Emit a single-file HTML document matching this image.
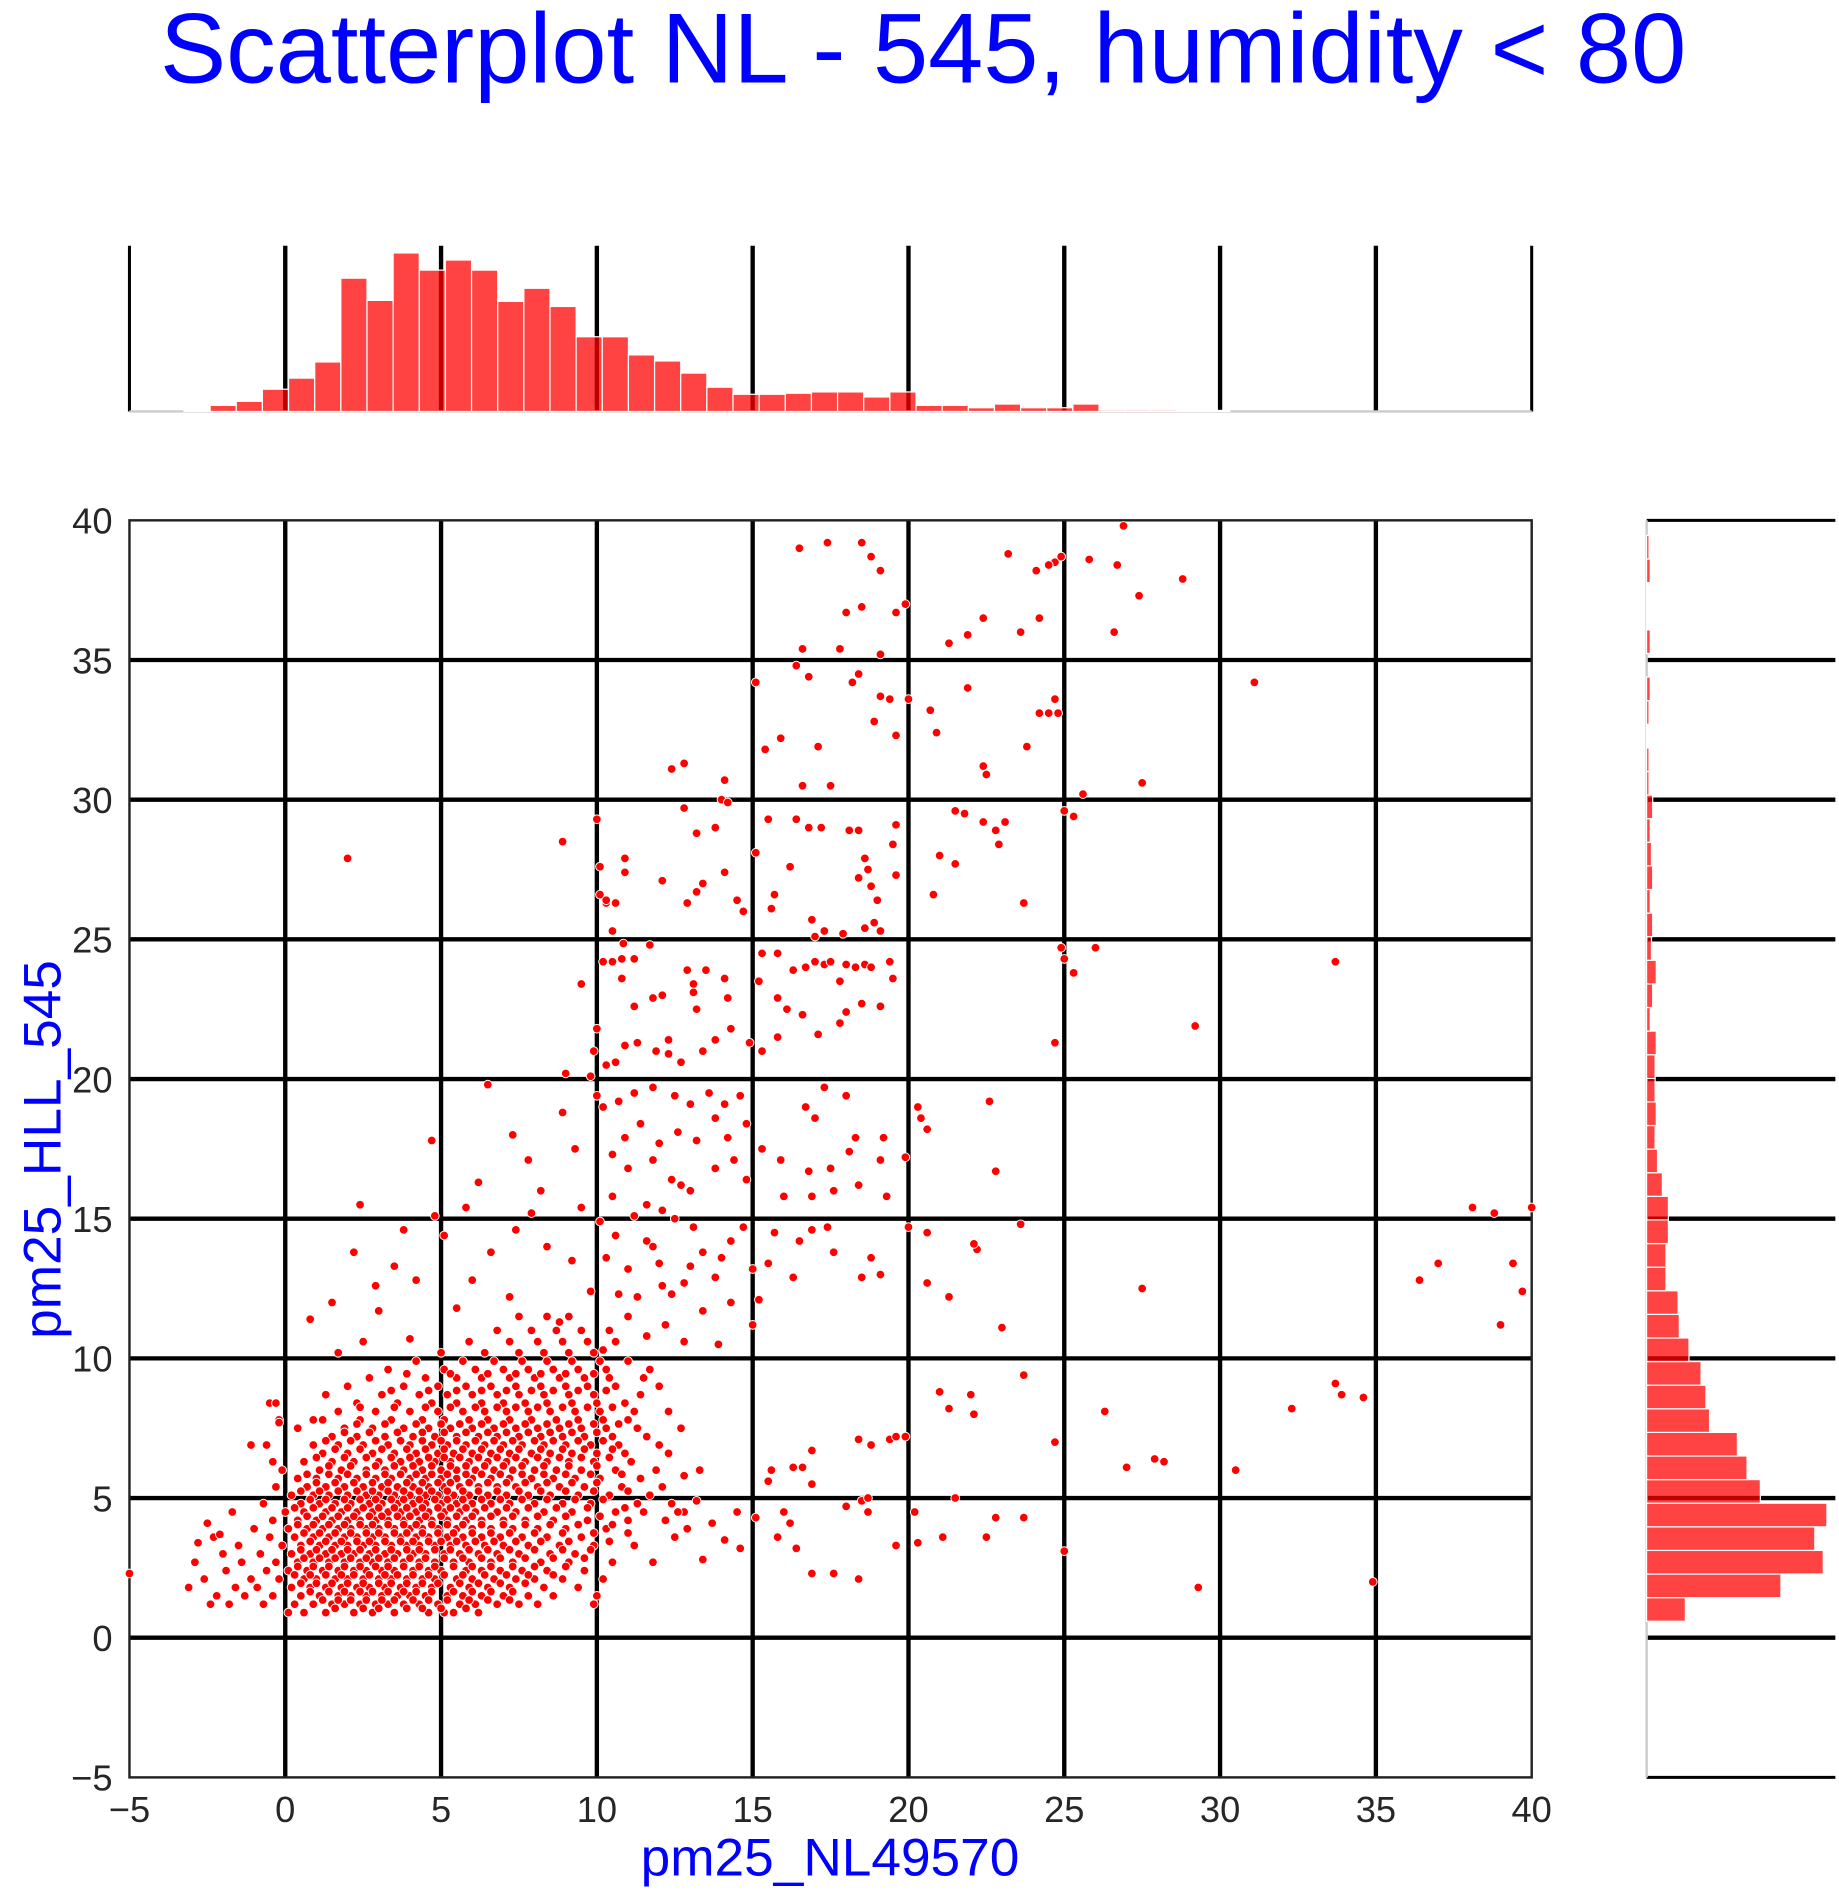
<!DOCTYPE html>
<html><head><meta charset="utf-8"><style>
html,body{margin:0;padding:0;background:#fff;}
svg{display:block;}
text{font-family:"Liberation Sans",Arial,sans-serif;}
</style></head><body>
<svg id="chart" xmlns="http://www.w3.org/2000/svg" width="1839" height="1890" viewBox="0 0 1520 1562">
<rect x="0" y="0" width="1520" height="1562" fill="#fff"/>
<text x="763" y="68" text-anchor="middle" font-size="82" fill="#0000ff">Scatterplot NL - 545, humidity &lt; 80</text>
<g id="gTop"></g>
<g id="gMain"></g>
<g id="gRight"></g>
<text x="686" y="1550" text-anchor="middle" font-size="44" fill="#0000ff">pm25_NL49570</text>
<text transform="translate(50,950) rotate(-90)" text-anchor="middle" font-size="44" fill="#0000ff">pm25_HLL_545</text>
</svg>
<script>
const xTicks=[-5,0,5,10,15,20,25,30,35,40];
const yTicks=[-5,0,5,10,15,20,25,30,35,40];
const topBinStart=-3.25, topBinWidth=0.839;
const topCounts=[3,18,30,66,99,147,396,330,471,420,450,420,327,366,312,222,222,168,150,114,72,51,51,54,58,58,43,58,18,18,11,22,11,11,22,4,4,4,3,3];
const rightBinStart=0.59, rightBinWidth=0.845;
const rightCounts=[32,111,146,139,149,94,83,75,52,49,45,35,27,26,16,16,18,18,13,9,7,8,7,7,8,3,5,8,4,5,3,5,4,3,5,2,2,1,2,3,0,3,1,1,3,2];
const outliers=[[26.9,39.8],[40,15.4],[38.1,15.4],[38.8,15.2],[39.4,13.4],[39.7,12.4],[39.0,11.2],[36.4,12.8],[37.0,13.4],[33.7,9.1],[33.9,8.7],[34.6,8.6],[32.3,8.2],[30.5,6.0],[34.9,2.0],[29.3,1.8],[33.7,24.2],[31.1,34.2],[28.8,37.9],[27.5,30.6],[29.2,21.9],[-5,2.3],[2.0,27.9],[27.5,12.5],[26.3,8.1],[27.0,6.1],[27.9,6.4],[28.2,6.3],[25,3.1],[24.7,7.0],[23.7,9.4],[23.0,11.1],[22.8,16.7],[22.6,19.2],[23.6,14.8],[22.2,13.9],[22.1,14.1],[21.3,12.2],[21.5,5.0],[22.1,8.0],
[16.5,39.0],[17.4,39.2],[18.5,39.2],[18.8,38.7],[19.1,38.2],[23.2,38.8],[24.1,38.2],[24.7,38.5],[24.9,38.7],[25.8,38.6],[26.7,38.4],[27.4,37.3],[26.6,36.0],[24.5,38.4],[19.9,37.0],[19.6,36.7],[18.5,36.9],[18.0,36.7],[22.4,36.5],[21.9,35.9],[21.3,35.6],[23.6,36.0],[24.2,36.5],[16.6,35.4],[17.8,35.4],[19.1,35.2],[16.4,34.8],[15.1,34.2],[16.8,34.4],[18.2,34.2],[18.4,34.5],[19.1,33.7],[19.4,33.6],[20.0,33.6],[20.7,33.2],[21.9,34.0],[18.9,32.8],[19.6,32.3],[20.9,32.4],[24.2,33.1],[24.5,33.1],[24.7,33.6],[24.8,33.1],[23.8,31.9],[15.9,32.2],[15.4,31.8],[17.1,31.9],[12.4,31.1],[12.8,31.3],[14.1,30.7],[16.6,30.5],[17.5,30.5],[14.0,30.0],[14.2,29.9],[12.8,29.7],[21.5,29.6],[21.8,29.5],[22.4,29.2],[23.1,29.2],[22.8,28.9],[22.9,28.4],[25.0,29.6],[25.3,29.4],[25.6,30.2],[10.0,29.3],[8.9,28.5],[15.5,29.3],[16.4,29.3],[16.8,29.0],[17.2,29.0],[18.1,28.9],[18.4,28.9],[19.6,29.1],[19.5,28.4],[13.2,28.8],[13.8,29.0],[15.1,28.1],[21.0,28.0],[21.5,27.7],[22.4,31.2],[22.5,30.9],[20.8,26.6],[23.7,26.3],[16.2,27.6],[18.6,27.9],[18.7,27.5],[18.4,27.2],[18.8,26.9],[19.6,27.3],[19.0,26.4],[18.6,25.4],[17.9,25.2],[17.3,25.3],[16.9,25.7],[17.0,25.1],[18.9,25.6],[19.1,25.3],[10.1,26.6],[10.3,26.4],[10.6,26.3],[10.1,27.6],[10.9,27.9],[10.9,27.4],[12.1,27.1],[13.4,27.0],[13.2,26.7],[14.1,27.4],[14.5,26.4],[14.7,26.0],[15.6,26.1],[15.7,26.6],[12.9,26.3],[24.9,24.7],[25.0,24.3],[25.3,23.8],[26.0,24.7],[24.7,21.3]];
const midPoints=[[10.85,24.85],[10.8,24.3],[10.5,24.2],[11.2,24.3],[11.7,24.8],[12.9,23.9],[13.1,23.4],[13.1,23.1],[14.1,23.6],[14.2,22.9],[15.3,24.5],[15.2,23.5],[15.8,24.5],[16.3,23.9],[16.7,24.0],[15.8,22.9],[16.1,22.5],[17.0,24.2],[17.3,24.1],[17.5,24.2],[17.8,23.5],[18.0,24.1],[18.3,24.0],[18.6,24.1],[18.8,24.0],[19.4,24.2],[19.5,23.6],[19.1,22.6],[18.5,22.7],[18.0,22.4],[17.8,22.0],[17.1,21.6],[16.6,22.3],[15.8,21.5],[15.3,21.0],[14.9,21.3],[14.3,21.8],[13.8,21.4],[13.4,21.0],[12.7,20.6],[12.3,20.9],[11.9,21.0],[11.3,21.3],[10.9,21.2],[10.6,20.6],[10.3,20.5],[9.9,21.0],[9.8,20.1],[10.0,19.4],[10.2,19.0],[10.7,19.2],[11.2,19.5],[11.8,19.7],[12.5,19.4],[13.0,19.1],[13.6,19.5],[14.1,19.1],[14.6,19.4],[14.8,18.4],[14.2,17.9],[13.8,18.6],[13.2,17.8],[12.6,18.1],[12.0,17.7],[11.4,18.4],[10.9,17.9],[10.5,17.3],[11.0,16.8],[11.8,17.1],[12.4,16.4],[13.0,16.0],[13.8,16.8],[14.4,17.1],[14.8,16.4],[15.3,17.5],[15.9,17.1],[16.0,15.8],[16.7,19.0],[17.0,18.6],[17.3,19.7],[18.0,19.4],[18.3,17.9],[18.1,17.4],[17.5,16.8],[16.8,16.7],[16.9,15.8],[17.6,16.0],[18.4,16.2],[19.1,17.1],[19.2,17.9],[19.3,15.8],[19.9,17.2],[20.3,19.0],[20.4,18.6],[20.6,18.2],[20.0,14.7],[20.6,14.5],[20.6,12.7],[21.0,8.8],[21.3,8.2],[22.0,8.7],[19.1,13.0],[18.8,13.6],[18.5,12.9],[17.6,13.8],[17.4,14.7],[16.9,14.6],[16.5,14.2],[16.3,12.9],[15.7,14.5],[15.5,13.4],[15.0,13.2],[15.2,12.1],[15.0,11.2],[14.7,14.7],[14.3,14.2],[14.0,13.6],[13.8,12.9],[13.4,13.8],[13.1,14.7],[12.8,12.7],[12.4,12.3],[12.0,13.4],[11.6,14.2],[11.2,15.1],[11.0,13.2],[10.7,12.3],[10.3,13.6],[10.1,14.9],[10.5,15.8],[11.6,15.5],[12.1,15.3],[12.7,16.2],
[15.6,6.0],[15.5,5.6],[16.3,6.1],[16.6,6.1],[16.9,6.7],[16.9,5.5],[16.0,4.5],[16.2,4.1],[16.4,3.2],[16.9,2.3],[17.6,2.3],[18.0,4.7],[18.5,4.9],[18.7,4.5],[18.4,2.1],[18.4,7.1],[18.8,6.9],[19.4,7.1],[19.6,7.2],[19.9,7.2],[18.7,5.0],[19.6,3.3],[20.2,4.5],[20.3,3.4],[21.1,3.6],[22.8,4.3],[22.5,3.6],[23.7,4.3],[15.8,3.6],[15.1,4.3],[14.6,3.2],[14.5,4.5],[14.1,3.5],[13.7,4.1],[13.4,2.8],[13.2,4.9],[12.8,5.8],[12.6,4.5],
[2.4,15.5],[0.8,11.4],[1.5,12.0],[2.2,13.8],[3.5,13.3],[4.7,17.8],[4.8,15.1],[5.1,14.4],[6.2,16.3],[7.3,18.0],[7.8,17.1],[8.2,16.0],[8.9,18.8],[9.3,17.5],[6.5,19.8],[9.0,20.2],[5.8,15.4],[3.0,11.7],[4.2,12.8],[6.6,13.8],[7.4,14.6],[8.4,14.0],[9.5,15.4],[9.8,12.4],[8.8,11.3],[7.2,12.2],[5.5,11.8],[4.0,10.7],[2.5,10.6],[1.7,10.2],[6.0,12.8],[7.9,15.2],[9.2,13.5],[3.8,14.6],[2.9,12.6],
[10.4,11.0],[11.0,11.5],[11.6,10.8],[12.2,11.2],[12.8,10.6],[13.4,11.7],[13.9,10.5],[14.3,12.0],[10.2,10.3],[11.3,12.2],[12.1,12.6],[13.0,13.3],[11.8,14.0],[10.6,14.4],[12.5,15.0],
[10.3,26.3],[10.5,25.3],[10.2,24.2],[10.8,23.6],[11.2,22.6],[9.5,23.4],[10.0,21.8],[11.8,22.9],[12.1,23.0],[13.5,23.9],[13.2,22.5],[12.3,21.4],
[-0.3,8.4],[-0.2,7.7],[-1.1,6.9],[-0.4,6.3],[-2.5,4.1],[-2.1,3.7],[-2.8,3.4],[0.9,7.8]];
const clusterY=[0.9,1.2,1.5,1.8,2.1,2.4,2.7,3.0,3.3,3.6,3.9,4.2,4.5,4.8,5.1,5.4,5.7,6.0,6.3,6.6,6.9,7.2,7.5,7.8,8.1,8.4,8.7,9.0,9.3,9.6,9.9,10.2,10.6,11.0,11.5];
const clusterX=[
[0.1,0.6,1.3,2.2,2.8,3.5,4.6,5.1,5.4,6.2],
[-2.4,-1.8,-0.7,0.3,0.9,1.5,1.9,2.4,2.9,3.3,3.8,4.3,4.9,5.6,6.1,6.8,7.5,8.1,9.9],
[-2.2,-1.3,-0.4,0.5,1.1,1.7,2.1,2.6,3.1,3.6,4.0,4.5,5.2,5.7,6.3,7.0,7.8,8.6,10.0],
[-3.1,-1.6,-0.9,0.2,0.8,1.3,1.8,2.3,2.7,3.2,3.7,4.2,4.7,5.3,5.9,6.5,7.2,8.3,9.4],
[-2.6,-1.1,-0.2,0.6,1.0,1.6,2.0,2.5,3.0,3.4,3.9,4.4,4.8,5.5,6.0,6.7,7.4,8.0,8.9,10.2],
[-1.9,-0.6,0.1,0.7,1.2,1.7,2.2,2.6,3.1,3.5,4.1,4.6,5.0,5.8,6.3,6.9,7.6,8.4,9.6],
[-2.9,-1.4,-0.3,0.4,0.9,1.4,1.9,2.4,2.8,3.3,3.8,4.3,4.8,5.4,5.9,6.6,7.3,8.2,9.1,10.5,11.8],
[-2.0,-0.8,0.2,0.8,1.3,1.8,2.2,2.7,3.2,3.6,4.1,4.5,5.1,5.6,6.2,6.8,7.5,8.5,9.3],
[-1.5,-0.1,0.5,1.1,1.6,2.0,2.5,2.9,3.4,3.9,4.3,4.8,5.3,5.8,6.4,7.0,7.8,8.8,9.9,11.2],
[-2.3,-0.5,0.3,0.9,1.4,1.9,2.3,2.8,3.2,3.7,4.2,4.6,5.2,5.7,6.3,6.9,7.6,8.4,9.5,12.5],
[-1.0,0.1,0.7,1.2,1.7,2.1,2.6,3.0,3.5,4.0,4.4,4.9,5.5,6.0,6.6,7.3,8.1,9.0,10.3,12.9],
[-0.4,0.4,1.0,1.5,2.0,2.4,2.9,3.3,3.8,4.3,4.7,5.2,5.8,6.3,7.0,7.7,8.6,9.7,11.0,12.2],
[-1.7,0.0,0.6,1.3,1.8,2.3,2.8,3.3,3.7,4.2,4.6,5.1,5.6,6.1,6.8,7.4,8.3,9.2,10.6,11.5,12.8],
[-0.7,0.5,1.1,1.6,2.1,2.7,3.1,3.6,4.1,4.5,5.0,5.5,6.0,6.6,7.2,8.0,8.9,9.8,11.3,12.4],
[0.2,0.9,1.4,2.0,2.6,3.0,3.5,4.0,4.5,4.9,5.4,5.9,6.5,7.1,7.8,8.5,9.4,10.4,11.7],
[-0.3,0.7,1.3,1.9,2.5,3.1,3.6,4.1,4.6,5.1,5.6,6.2,6.8,7.4,8.1,8.8,9.6,10.8,12.1],
[0.4,1.0,1.7,2.3,2.9,3.4,4.0,4.5,5.0,5.5,6.0,6.6,7.2,7.9,8.6,9.3,10.1,11.4],
[-0.1,1.1,1.8,2.6,3.2,3.8,4.4,5.0,5.5,6.1,6.7,7.3,8.0,8.7,9.5,10.6,11.9,13.3],
[0.6,1.5,2.2,3.0,3.7,4.3,4.8,5.3,5.9,6.5,7.1,7.7,8.4,9.1,9.9,11.1],
[1.2,2.0,2.8,3.5,4.2,4.9,5.4,6.0,6.6,7.2,7.9,8.5,9.2,10.0,10.9,12.3],
[-0.6,0.9,1.7,2.5,3.3,4.0,4.7,5.2,5.8,6.4,7.0,7.6,8.3,9.0,9.8,10.7,12.0],
[1.5,2.3,3.2,4.1,4.8,5.5,6.2,6.8,7.5,8.2,8.9,9.6,10.5,11.6],
[0.4,1.9,2.8,3.8,4.6,5.3,6.0,6.7,7.4,8.1,8.8,9.5,10.3,11.3,12.7],
[-0.2,1.2,2.4,3.4,4.4,5.1,5.9,6.5,7.2,7.9,8.7,9.4,10.2,11.0],
[1.7,2.9,4.0,4.9,5.7,6.4,7.1,7.8,8.5,9.3,10.1,11.2,12.3],
[-0.5,2.3,3.6,4.7,5.5,6.3,7.0,7.7,8.4,9.2,10.0,10.9],
[1.3,3.1,4.3,5.2,6.0,6.8,7.5,8.3,9.1,9.9,11.4],
[2.0,3.8,4.9,5.8,6.6,7.4,8.2,9.0,9.7,10.6,12.0],
[2.7,4.5,5.5,6.3,7.2,8.0,8.8,9.6,10.4,11.5],
[3.3,5.1,6.1,7.0,7.8,8.6,9.4,10.3,11.7],
[4.2,5.7,6.7,7.6,8.4,9.2,10.1,11.0],
[5.0,6.4,7.5,8.3,9.1,9.9],
[5.9,7.2,8.1,8.9,9.7,10.6],
[6.8,7.9,8.7,9.5],
[7.5,8.4,9.1]];
// denser core, offset rows
const coreY=[1.05,1.35,1.65,1.95,2.25,2.55,2.85,3.15,3.45,3.75,4.05,4.35,4.65,4.95,5.25,5.55,5.85,6.15,6.45,6.75,7.05,7.35,7.65,8.25,8.85,9.45];
const coreX=[
[1.6,2.5,3.0,3.9,4.4,5.0,5.8],
[1.2,1.7,2.1,2.6,3.1,3.5,4.1,4.6,5.2,5.9,6.5,7.2],
[0.8,1.4,1.9,2.4,2.8,3.3,3.8,4.2,4.7,5.4,6.0,6.6,7.3],
[0.5,1.0,1.5,2.0,2.5,3.0,3.4,3.9,4.4,4.9,5.6,6.2,6.9,7.7],
[0.3,0.8,1.3,1.8,2.2,2.7,3.2,3.6,4.1,4.6,5.1,5.7,6.4,7.1,7.8,8.6],
[0.4,0.9,1.4,1.9,2.4,2.9,3.3,3.8,4.3,4.8,5.4,6.0,6.6,7.3,8.0,9.0],
[0.6,1.1,1.6,2.1,2.6,3.0,3.5,4.0,4.5,5.1,5.7,6.3,6.9,7.7,8.6,9.6],
[0.5,1.0,1.5,2.0,2.4,2.9,3.4,3.9,4.3,4.8,5.3,5.9,6.5,7.2,8.0,8.9,9.8],
[0.8,1.3,1.8,2.3,2.7,3.2,3.7,4.1,4.6,5.0,5.5,6.1,6.7,7.4,8.2,9.1,10.4],
[0.6,1.1,1.6,2.1,2.6,3.0,3.5,3.9,4.4,4.9,5.4,6.0,6.6,7.2,8.0,8.9,9.9,11.0],
[0.4,0.9,1.4,1.9,2.4,2.8,3.3,3.8,4.2,4.7,5.2,5.7,6.3,7.0,7.7,8.5,9.4,10.5],
[0.7,1.2,1.7,2.2,2.7,3.1,3.6,4.0,4.5,5.0,5.5,6.0,6.6,7.3,8.1,9.0,10.1],
[0.3,0.9,1.5,2.0,2.5,3.0,3.5,3.9,4.4,4.9,5.3,5.8,6.4,7.1,7.8,8.7,9.7,10.9],
[0.8,1.3,1.9,2.4,2.9,3.4,3.8,4.3,4.8,5.2,5.7,6.3,6.9,7.6,8.4,9.3,10.2],
[0.5,1.1,1.7,2.3,2.8,3.3,3.8,4.3,4.7,5.2,5.7,6.2,6.8,7.5,8.2,9.0,9.9,11.0],
[1.0,1.6,2.2,2.8,3.3,3.9,4.4,4.9,5.3,5.9,6.5,7.1,7.7,8.4,9.2,10.0],
[0.7,1.4,2.0,2.6,3.2,3.7,4.2,4.7,5.2,5.8,6.3,6.9,7.6,8.3,9.0,9.8,10.8],
[1.4,2.1,2.9,3.5,4.1,4.7,5.3,5.8,6.4,7.0,7.6,8.3,9.1,10.0],
[1.0,1.9,2.6,3.4,4.0,4.6,5.1,5.6,6.2,6.8,7.4,8.1,8.8,9.5,10.4],
[1.6,2.4,3.1,3.9,4.5,5.1,5.7,6.3,6.9,7.5,8.2,8.9,9.6,10.5],
[1.3,2.1,2.9,3.7,4.4,5.0,5.5,6.1,6.7,7.3,8.0,8.6,9.4,10.2],
[1.9,2.7,3.6,4.4,5.1,5.8,6.5,7.1,7.8,8.5,9.2,10.0],
[2.3,3.2,4.2,5.0,5.6,6.3,7.0,7.7,8.4,9.1,9.9,10.7],
[2.4,3.5,4.5,5.3,6.1,6.8,7.4,8.1,8.9,9.7,10.5],
[3.4,4.6,5.5,6.3,7.1,7.9,8.6,9.4,10.3],
[3.9,5.3,6.5,7.4,8.2,9.0,9.9]];

const NS='http://www.w3.org/2000/svg';
const L=107,R=1266,T=430,B=1469;
const xs=v=>L+(v+5)/45*(R-L);
const ys=v=>B-(v+5)/45*(B-T);
const TT=203,TB=340, RL=1361,RR=1517;
function mk(tag,attrs,parent){const e=document.createElementNS(NS,tag);for(const k in attrs)e.setAttribute(k,attrs[k]);parent.appendChild(e);return e;}
const gTop=document.getElementById('gTop'),gMain=document.getElementById('gMain'),gRight=document.getElementById('gRight');

xTicks.forEach(t=>{if(t>-5&&t<40){const l=mk('line',{x1:xs(t),x2:xs(t),y1:T,y2:B,stroke:'#000','stroke-width':3.6},gMain);


const l2=mk('line',{x1:xs(t),x2:xs(t),y1:TT,y2:TB,stroke:'#000','stroke-width':3.6},gTop);

}
const tx=mk('text',{x:xs(t),y:B+37,'text-anchor':'middle','font-size':30,fill:'#262626'},gMain);tx.textContent=String(t).replace('-','\u2212');

});
yTicks.forEach(t=>{if(t>-5&&t<40){const l=mk('line',{x1:L,x2:R,y1:ys(t),y2:ys(t),stroke:'#000','stroke-width':3.6},gMain);


const l2=mk('line',{x1:RL,x2:RR,y1:ys(t),y2:ys(t),stroke:'#000','stroke-width':3.6},gRight);

}
const tx=mk('text',{x:L-14,y:ys(t)+11,'text-anchor':'end','font-size':30,fill:'#262626'},gMain);tx.textContent=String(t).replace('-','\u2212');

});
const fr=mk('rect',{x:L,y:T,width:R-L,height:B-T,fill:'none',stroke:'#222','stroke-width':2},gMain);


mk('line',{x1:L,x2:L,y1:TT,y2:TB,stroke:'#000','stroke-width':2.5},gTop);
mk('line',{x1:R,x2:R,y1:TT,y2:TB,stroke:'#000','stroke-width':2.5},gTop);
mk('line',{x1:L,x2:R,y1:TB,y2:TB,stroke:'#ccc','stroke-width':2},gTop);
mk('line',{x1:RL,x2:RR,y1:T,y2:T,stroke:'#000','stroke-width':2.5},gRight);
mk('line',{x1:RL,x2:RR,y1:B,y2:B,stroke:'#000','stroke-width':2.5},gRight);
mk('line',{x1:RL,x2:RL,y1:T,y2:B,stroke:'#ccc','stroke-width':2},gRight);

const topMax=Math.max(...topCounts);
topCounts.forEach((c,i)=>{const x0=xs(topBinStart+i*topBinWidth),x1=xs(topBinStart+(i+1)*topBinWidth);const h=c/topMax*131;
const r=mk('rect',{x:x0,y:TB-h,width:x1-x0,height:h,fill:'rgba(255,0,0,0.74)',stroke:'#fff','stroke-width':1},gTop);

});
const rMax=Math.max(...rightCounts);
rightCounts.forEach((c,i)=>{const y0=ys(rightBinStart+(i+1)*rightBinWidth),y1=ys(rightBinStart+i*rightBinWidth);const w=c/rMax*149;
const r=mk('rect',{x:RL,y:y0,width:w,height:y1-y0,fill:'rgba(255,0,0,0.74)',stroke:'#fff','stroke-width':1},gRight);

});
function dot(x,y){const c=mk('circle',{cx:xs(x),cy:ys(y),r:3.6,fill:'#ff0000',stroke:'#fff','stroke-width':0.8},gMain);

}
clusterY.forEach((y,i)=>clusterX[i].forEach(x=>dot(x,y)));
coreY.forEach((y,i)=>coreX[i].forEach(x=>dot(x,y)));
midPoints.forEach(p=>dot(p[0],p[1]));
outliers.forEach(p=>dot(p[0],p[1]));
</script>
</body></html>
